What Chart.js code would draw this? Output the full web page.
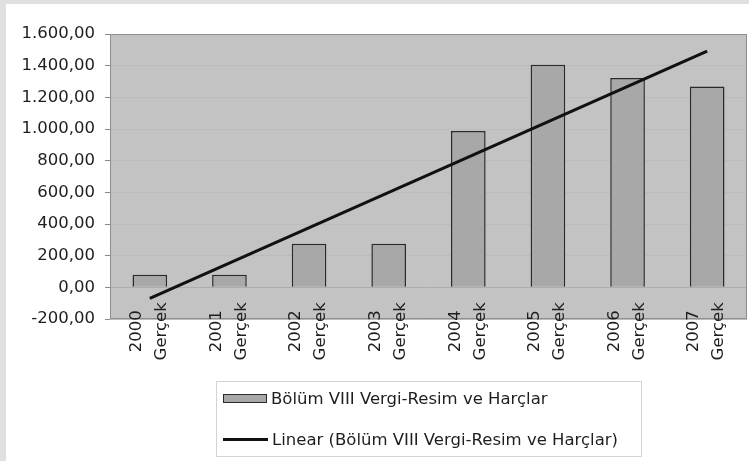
<!DOCTYPE html>
<html>
<head>
<meta charset="utf-8">
<script src="https://cdn.jsdelivr.net/npm/chart.js@4/dist/chart.umd.min.js"></script>
<style>
    html, body { margin: 0; padding: 0; background: #fff; }
    body { width: 749px; height: 461px; position: relative; overflow: hidden;
           box-shadow: inset 6px 4px 0 #e0e0e0; font-family: "DejaVu Sans", sans-serif; }
    #chart { position: absolute; left: 0; top: 0; }
    #legend { position: absolute; left: 216px; top: 381px; width: 424px; height: 74px;
              border: 1px solid #d4d4d4; font-size: 16.5px; color: #1e1e1e; }
    .row { position: absolute; left: 6px; height: 20px; display: flex; align-items: center; }
    .swatch { width: 44px; height: 9px; background: #a8a8a8; border: 1px solid #2a2a2a; margin-right: 4px; box-sizing: border-box; }
    .trend { width: 45px; height: 3px; background: #111; margin-right: 4px; }
</style>
</head>
<body>
<canvas id="chart" width="749" height="461"></canvas>
<div id="legend">
    <div class="row" style="top: 6px"><span class="swatch"></span><span id="lg-bar"></span></div>
    <div class="row" style="top: 47px"><span class="trend"></span><span id="lg-line"></span></div>
</div>
<script>
const years = ["2000", "2001", "2002", "2003", "2004", "2005", "2006", "2007"];
const rowLabel = "Gerçek";
const seriesName = "Bölüm VIII Vergi-Resim ve Harçlar";
const trendName = "Linear (Bölüm VIII Vergi-Resim ve Harçlar)";
const barValues = [80, 80, 276, 276, 987, 1406, 1322, 1269];
// trend line read at first and last category only, straight line between
const trendValues = [-70, null, null, null, null, null, null, 1492];
const yMin = -200, yMax = 1600, yStep = 200;

document.getElementById("lg-bar").textContent = seriesName;
document.getElementById("lg-line").textContent = trendName;

const FONT = "DejaVu Sans";

function fmt(v) {
    const neg = v < 0;
    const s = Math.abs(Math.round(v)).toString().replace(/\B(?=(\d{3})+(?!\d))/g, ".");
    return (neg ? "-" : "") + s + ",00";
}

const plotBg = {
    id: "plotBg",
    beforeDraw(chart) {
        const { ctx, chartArea: a } = chart;
        ctx.save();
        ctx.fillStyle = "#c3c3c3";
        ctx.fillRect(a.left, a.top, a.right - a.left, a.bottom - a.top);
        ctx.restore();
    },
    beforeDatasetsDraw(chart) {
        const { ctx, chartArea: a } = chart;
        ctx.save();
        ctx.strokeStyle = "#8e8e8e";
        ctx.lineWidth = 1;
        ctx.strokeRect(a.left + 0.5, a.top + 0.5, a.right - a.left - 1, a.bottom - a.top - 1);
        ctx.restore();
    }
};

// category labels hang below the zero line (axis crosses at 0), two lines, centred
const catLabels = {
    id: "catLabels",
    afterDraw(chart) {
        const { ctx } = chart;
        const xs = chart.scales.x;
        const midY = chart.scales.y.getPixelForValue(0) + 44;
        ctx.save();
        ctx.fillStyle = "#1e1e1e";
        ctx.font = `16.5px "${FONT}"`;
        ctx.textAlign = "center";
        ctx.textBaseline = "middle";
        xs.ticks.forEach((t, i) => {
            const x = xs.getPixelForValue(t.value);
            [[xs.getLabelForValue(t.value), -13], [rowLabel, 12]].forEach(([txt, dx]) => {
                ctx.save();
                ctx.translate(x + dx, midY);
                ctx.rotate(-Math.PI / 2);
                ctx.fillText(txt, 0, 0);
                ctx.restore();
            });
        });
        ctx.restore();
    }
};

new Chart(document.getElementById("chart").getContext("2d"), {
    type: "bar",
    data: {
        labels: years,
        datasets: [
            {
                type: "line",
                label: trendName,
                data: trendValues,
                borderColor: "#111",
                borderWidth: 3,
                pointRadius: 0,
                spanGaps: true,
                fill: false,
                order: 0
            },
            {
                label: seriesName,
                data: barValues,
                backgroundColor: "#a8a8a8",
                borderColor: "#2a2a2a",
                borderWidth: 1.5,
                barPercentage: 0.435,
                categoryPercentage: 1,
                order: 1
            }
        ]
    },
    options: {
        responsive: false,
        animation: false,
        layout: { padding: { top: 34, right: 2, bottom: 92, left: 0 } },
        plugins: { legend: { display: false }, tooltip: { enabled: false } },
        scales: {
            x: {
                grid: { display: false },
                border: { display: false },
                afterFit: s => { s.height = 50; },
                ticks: { display: false, autoSkip: false }
            },
            y: {
                min: yMin,
                max: yMax,
                border: { display: false },
                afterFit: s => { s.width = 110; },
                grid: {
                    color: c => c.tick && c.tick.value === 0 ? "#adadad" : "#bbbbbb",
                    tickColor: "#8a8a8a",
                    tickLength: 5,
                    drawTicks: true
                },
                ticks: {
                    stepSize: yStep,
                    padding: 10,
                    color: "#1e1e1e",
                    font: { family: FONT, size: 16.5 },
                    callback: v => fmt(v)
                }
            }
        }
    },
    plugins: [plotBg, catLabels]
});
</script>
</body>
</html>
